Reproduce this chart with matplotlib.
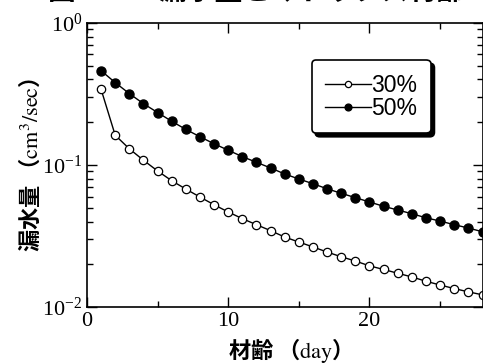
import numpy as np
import matplotlib.pyplot as plt
from matplotlib.ticker import MultipleLocator, LogLocator, NullFormatter

plt.rcParams['font.family'] = ['Liberation Serif', 'Noto Sans CJK JP']
plt.rcParams['mathtext.fontset'] = 'stix'

# Data
days = list(range(1, 29))
leak_30 = [0.341, 0.162, 0.130, 0.108, 0.0908, 0.0775, 0.0677, 0.0595, 0.0525, 0.0467,
           0.0419, 0.0380, 0.0345, 0.0311, 0.0287, 0.0265, 0.0244, 0.0226, 0.0211, 0.0195,
           0.0184, 0.0173, 0.0163, 0.0152, 0.0143, 0.0135, 0.0128, 0.0122]
leak_50 = [0.461, 0.380, 0.318, 0.270, 0.234, 0.203, 0.178, 0.158, 0.141, 0.127,
           0.1145, 0.1044, 0.0953, 0.0864, 0.0797, 0.0738, 0.0680, 0.0632, 0.0589, 0.0549,
           0.0512, 0.0482, 0.0454, 0.0425, 0.0403, 0.0380, 0.0360, 0.0339]
labels = ['30%', '50%']

fig = plt.figure(figsize=(4.83, 3.63), dpi=100)
ax = fig.add_axes([0.180, 0.154, 0.819, 0.783])

ax.plot(days, leak_30, '-o', color='black', mfc='white', mec='black', ms=6, lw=1,
        mew=0.9, label=labels[0], clip_on=False)
ax.plot(days, leak_50, '-o', color='black', mfc='black', mec='black', ms=6.5, lw=1,
        label=labels[1], clip_on=False)

ax.set_yscale('log')
ax.set_ylim(0.01, 1)
ax.set_xlim(0, 28)
ax.xaxis.set_major_locator(MultipleLocator(10))
ax.xaxis.set_minor_locator(MultipleLocator(5))
ax.yaxis.set_minor_locator(LogLocator(base=10, subs=np.arange(2, 10)))
ax.yaxis.set_minor_formatter(NullFormatter())
ax.tick_params(which='both', direction='in', top=True, right=True, labelsize=16, width=1)
ax.tick_params(which='major', length=7)
ax.tick_params(which='minor', length=4)
for s in ax.spines.values():
    s.set_linewidth(1.2)

ax.set_xlabel('材齢 （$\\mathrm{day}$）', fontsize=16, family=['Noto Sans CJK JP'],
              fontweight='bold')
ax.set_ylabel('漏水量 （$\\mathrm{cm}^3\\mathrm{/sec}$）', fontsize=16,
              family=['Noto Sans CJK JP'], fontweight='bold')
ax.xaxis.set_label_coords(0.5, -0.151)
ax.yaxis.set_label_coords(-0.144, 0.5)
ax.xaxis.label.set_va('center')
ax.yaxis.label.set_va('center')

leg = ax.legend(loc='upper left', bbox_to_anchor=(0.568, 0.870),
                prop={'family': 'Liberation Sans', 'size': 16.5},
                handlelength=2.0, handletextpad=0.0, labelspacing=0.0,
                borderpad=0.6, borderaxespad=0, markerscale=0.75, fancybox=True,
                shadow={'color': 'black', 'alpha': 1, 'ox': 2.5, 'oy': -2.5})
leg.get_frame().set_edgecolor('black')
leg.get_frame().set_linewidth(1.2)
leg.get_frame().set_alpha(1)

# title, cropped at the top of the image as in the source
fig.text(0.10, 0.984, '図ー　　漏水量とマトリクス材齢', fontsize=20, fontweight='bold',
         family=['Noto Sans CJK JP'], va='bottom', ha='left')

fig.savefig('out.png', dpi=100)
